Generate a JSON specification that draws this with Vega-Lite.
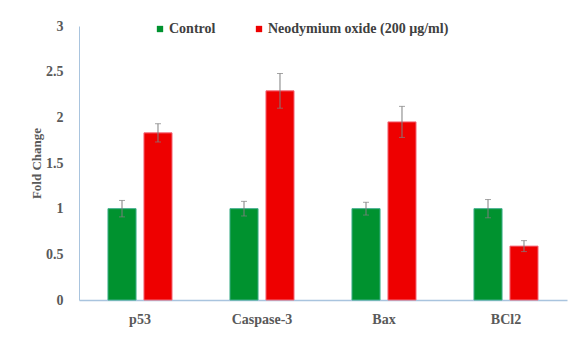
{
  "$schema": "https://vega.github.io/schema/vega-lite/v6.json",
  "width": 488,
  "height": 274,
  "autosize": {"type": "none"},
  "padding": {"left": 79, "top": 26, "right": 13, "bottom": 64},
  "background": "white",
  "config": {
    "view": {"stroke": null},
    "font": "Times New Roman, Liberation Serif, serif"
  },
  "data": {
    "values": [
      {"gene": "p53", "group": "Control", "mean": 1.0, "lo": 0.91, "hi": 1.09},
      {"gene": "p53", "group": "Neodymium oxide (200 µg/ml)", "mean": 1.83, "lo": 1.73, "hi": 1.93},
      {"gene": "Caspase-3", "group": "Control", "mean": 1.0, "lo": 0.92, "hi": 1.08},
      {"gene": "Caspase-3", "group": "Neodymium oxide (200 µg/ml)", "mean": 2.29, "lo": 2.10, "hi": 2.48},
      {"gene": "Bax", "group": "Control", "mean": 1.0, "lo": 0.93, "hi": 1.07},
      {"gene": "Bax", "group": "Neodymium oxide (200 µg/ml)", "mean": 1.95, "lo": 1.78, "hi": 2.12},
      {"gene": "BCl2", "group": "Control", "mean": 1.0, "lo": 0.9, "hi": 1.1},
      {"gene": "BCl2", "group": "Neodymium oxide (200 µg/ml)", "mean": 0.59, "lo": 0.53, "hi": 0.65}
    ]
  },
  "encoding": {
    "x": {
      "field": "gene",
      "type": "nominal",
      "sort": ["p53", "Caspase-3", "Bax", "BCl2"],
      "scale": {"paddingInner": 0.475, "paddingOuter": 0.2375},
      "axis": {
        "title": null,
        "labelAngle": 0,
        "ticks": false,
        "domainColor": "#a9c4de",
        "domainWidth": 1.5,
        "labelFont": "Times New Roman, Liberation Serif, serif",
        "labelFontWeight": "bold",
        "labelFontSize": 14,
        "labelColor": "#595959",
        "labelPadding": 12
      }
    },
    "xOffset": {
      "field": "group",
      "type": "nominal",
      "sort": ["Control", "Neodymium oxide (200 µg/ml)"],
      "scale": {"paddingInner": 0.22, "paddingOuter": 0}
    }
  },
  "layer": [
    {
      "mark": {"type": "bar", "strokeWidth": 1},
      "encoding": {
        "y": {
          "field": "mean",
          "type": "quantitative",
          "scale": {"domain": [0, 3]},
          "axis": {
            "title": "Fold Change",
            "values": [0, 0.5, 1, 1.5, 2, 2.5, 3],
            "format": "~g",
            "grid": false,
            "ticks": false,
            "domainColor": "#a9c4de",
            "domainWidth": 1,
            "labelFont": "Times New Roman, Liberation Serif, serif",
            "labelFontWeight": "bold",
            "labelFontSize": 14,
            "labelColor": "#595959",
            "labelPadding": 16,
            "titleFont": "Times New Roman, Liberation Serif, serif",
            "titleFontWeight": "bold",
            "titleFontSize": 13,
            "titleColor": "#595959",
            "titleX": -43,
            "titleY": 137,
            "titleAlign": "center",
            "titleBaseline": "middle"
          }
        },
        "color": {
          "field": "group",
          "type": "nominal",
          "scale": {
            "domain": ["Control", "Neodymium oxide (200 µg/ml)"],
            "range": ["#00922f", "#ee0000"]
          },
          "legend": {
            "title": null,
            "orient": "none",
            "direction": "horizontal",
            "legendX": 74,
            "legendY": -4,
            "symbolType": "square",
            "symbolSize": 40,
            "symbolStrokeWidth": 0,
            "labelFont": "Times New Roman, Liberation Serif, serif",
            "labelFontWeight": "bold",
            "labelFontSize": 14,
            "labelColor": "#404040",
            "labelOffset": 2,
            "labelLimit": 400,
            "columnPadding": 36
          }
        },
        "stroke": {
          "field": "group",
          "type": "nominal",
          "scale": {
            "domain": ["Control", "Neodymium oxide (200 µg/ml)"],
            "range": ["#3fae8c", "#f36a7a"]
          },
          "legend": null
        }
      }
    },
    {
      "mark": {"type": "rule", "color": "#7f7f7f", "strokeWidth": 1},
      "encoding": {
        "y": {"field": "lo", "type": "quantitative"},
        "y2": {"field": "hi"}
      }
    },
    {
      "mark": {"type": "tick", "color": "#7f7f7f", "size": 6, "thickness": 1},
      "encoding": {
        "y": {"field": "hi", "type": "quantitative"}
      }
    },
    {
      "mark": {"type": "tick", "color": "#7f7f7f", "size": 6, "thickness": 1},
      "encoding": {
        "y": {"field": "lo", "type": "quantitative"}
      }
    }
  ]
}
